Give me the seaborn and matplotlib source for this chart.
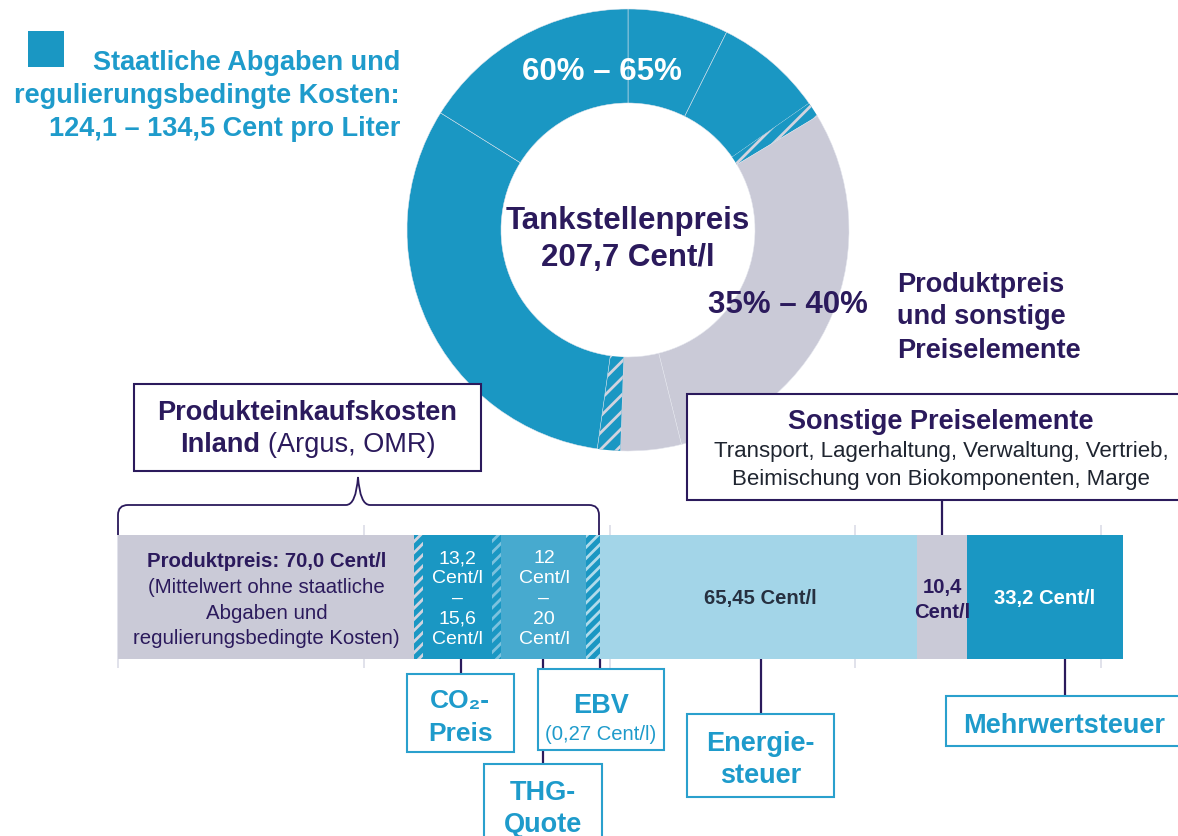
import matplotlib
matplotlib.use("Agg")
import matplotlib.pyplot as plt
from matplotlib.patches import Rectangle, PathPatch
from matplotlib.path import Path
import numpy as np
import pandas as pd
import seaborn as sns

# Ring: Anteile am Tankstellenpreis, in Grad (ab 12 Uhr, im Uhrzeigersinn)
donut_parts = [26.5, 28.5, 4.0, 107.0, 16.0, 6.0, 114.0, 58.0]
donut_kind = ["staat", "staat", "misch", "produkt", "produkt", "misch", "staat", "staat"]

# Balken: Segmentlaengen in Cent/l, wie gezeichnet
bar_parts = ["Produktpreis", "Rand 1", "CO2-Preis", "Rand 2", "THG-Quote", "EBV",
             "Energiesteuer", "Sonstige", "Mehrwertsteuer"]
bar_values = [60.2, 1.8, 14.0, 2.0, 17.3, 2.7, 64.6, 10.1, 31.9]
bar_hatched = [False, True, False, True, False, True, False, False, False]
bar_ticks = [0, 50, 100, 150, 200]

BLUE = "#1a97c3"
MID = "#47aacf"
LIGHT = "#a3d5e8"
GREY = "#cacad7"
DARK = "#2b1a5c"
TXTBLUE = "#1e9bcb"
BOXBLUE = "#2aa0cd"

bar_colors = [GREY, BLUE, BLUE, BLUE, MID, BLUE, LIGHT, GREY, BLUE]
bar_stripe = [None, "#d2d3de", None, "#7cc2de", None, "#b0dbeb", None, None, None]

sns.set_style("white")
plt.rcParams["font.family"] = ["Liberation Sans", "DejaVu Sans"]
plt.rcParams["hatch.linewidth"] = 2.0

W, H = 1178, 836
fig = plt.figure(figsize=(W / 100, H / 100), dpi=100)

# ---- donut ----
cx, cy, r_out, r_in = 628, 230, 221, 127
ax_pie = fig.add_axes([(cx - r_out) / W, (H - cy - r_out) / H, 2 * r_out / W, 2 * r_out / H])
kind_color = {"staat": BLUE, "produkt": GREY, "misch": BLUE}
wedges, _ = ax_pie.pie(donut_parts, colors=[kind_color[k] for k in donut_kind],
                       startangle=90, counterclock=False, radius=1,
                       wedgeprops=dict(width=(r_out - r_in) / r_out, linewidth=0.35,
                                       edgecolor="#e4e6ee"))
for w, k in zip(wedges, donut_kind):
    if k == "misch":
        w.set_hatch("//")
        w.set_edgecolor("#d2d3de")
        w.set_linewidth(0)
        if hasattr(w, "set_hatchcolor"):
            w.set_hatchcolor("#d2d3de")
ax_pie.set_xlim(-1, 1)
ax_pie.set_ylim(-1, 1)
ax_pie.set_aspect("equal")
ax_pie.axis("off")

# ---- stacked bar ----
px_per = 4.912
x0_px = 118.3
ax_bar = fig.add_axes([0, (H - 668) / H, 1, 143 / H])
df = pd.DataFrame({"Teil": bar_parts, "Wert": bar_values})
df["Ende"] = df["Wert"].cumsum()
df["Zeile"] = "Preis"
for i in reversed(range(len(df))):
    stripe = bar_stripe[i]
    sns.barplot(data=df.iloc[[i]], x="Ende", y="Zeile", orient="y", color=bar_colors[i],
                saturation=1, width=1, errorbar=None, linewidth=0,
                edgecolor=stripe if stripe else bar_colors[i], ax=ax_bar)
    p = ax_bar.patches[-1]
    p.set_facecolor(bar_colors[i])
    if bar_hatched[i]:
        p.set_hatch("///")
        p.set_edgecolor(stripe)
        if hasattr(p, "set_hatchcolor"):
            p.set_hatchcolor(stripe)
ax_bar.set_xlim(-x0_px / px_per, (W - x0_px) / px_per)
ax_bar.set_ylim(0.5 + 9 / 124, -0.5 - 10 / 124)
ax_bar.set_xticks(bar_ticks)
ax_bar.set_yticks([])
ax_bar.tick_params(length=0, labelbottom=False)
ax_bar.set_xlabel("")
ax_bar.set_ylabel("")
ax_bar.xaxis.grid(True, color="#dcdde8", lw=1.2)
ax_bar.set_axisbelow(True)
for s in ax_bar.spines.values():
    s.set_visible(False)
ax_bar.patch.set_visible(False)

# ---- overlay for annotations (pixel coordinates) ----
ax_t = fig.add_axes([0, 0, 1, 1])
ax_t.set_xlim(0, W)
ax_t.set_ylim(H, 0)
ax_t.axis("off")
ax_t.patch.set_visible(False)


def txt(x, y, s, size, color, weight="bold", ha="center"):
    ax_t.text(x, y, s, fontsize=size, color=color, fontweight=weight, ha=ha,
              va="baseline", zorder=5)


def box(x0, y0, x1, y1, ec, lw=1.5):
    ax_t.add_patch(Rectangle((x0, y0), x1 - x0, y1 - y0, facecolor="white",
                             edgecolor=ec, lw=lw, zorder=3))


def vline(x, y0, y1):
    ax_t.plot([x, x], [y0, y1], color=DARK, lw=1.6, zorder=2, solid_capstyle="butt")


# legend top-left
ax_t.add_patch(Rectangle((28, 31), 36, 36, facecolor=BLUE, edgecolor="none"))
txt(400, 70, "Staatliche Abgaben und", 19.5, TXTBLUE, ha="right")
txt(400, 103, "regulierungsbedingte Kosten:", 19.5, TXTBLUE, ha="right")
txt(400, 136, "124,1 – 134,5 Cent pro Liter", 19.5, TXTBLUE, ha="right")

# donut labels
txt(602, 80, "60% – 65%", 22.5, "white")
txt(628, 229, "Tankstellenpreis", 22.5, DARK)
txt(628, 266, "207,7 Cent/l", 22.5, DARK)
txt(708, 313, "35% – 40%", 22.5, DARK, ha="left")
txt(897, 292, "Produktpreis", 19.5, DARK, ha="left")
txt(897, 324, "und sonstige", 19.5, DARK, ha="left")
txt(897, 358, "Preiselemente", 19.5, DARK, ha="left")

# connectors
vline(942, 500, 535)
vline(461, 659, 674)
vline(543, 659, 764)
vline(600, 659, 669)
vline(761, 659, 714)
vline(1065, 659, 696)

# brace over Produkteinkaufskosten
verts = [(118, 535), (118, 515), (118, 505), (128, 505), (346, 505), (356, 505), (358, 477),
         (360, 505), (370, 505), (589, 505), (599, 505), (599, 515), (599, 535)]
codes = [Path.MOVETO, Path.LINETO, Path.CURVE3, Path.CURVE3, Path.LINETO, Path.CURVE3,
         Path.CURVE3, Path.CURVE3, Path.CURVE3, Path.LINETO, Path.CURVE3, Path.CURVE3,
         Path.LINETO]
ax_t.add_patch(PathPatch(Path(verts, codes), facecolor="none", edgecolor=DARK, lw=1.3, zorder=2))

# upper boxes
box(134, 384, 481, 471, DARK)
txt(307.5, 420, "Produkteinkaufskosten", 19.5, DARK)
txt(180, 452, "Inland", 19.5, DARK, ha="left")
txt(268, 452, "(Argus, OMR)", 19.5, DARK, weight="normal", ha="left")

box(687, 394, 1200, 500, DARK)
txt(941, 429, "Sonstige Preiselemente", 19.5, DARK)
txt(941, 457, "Transport, Lagerhaltung, Verwaltung, Vertrieb,", 16, "#1f2530", weight="normal")
txt(941, 485, "Beimischung von Biokomponenten, Marge", 16, "#1f2530", weight="normal")

# texts inside the bar
txt(266.5, 567, "Produktpreis: 70,0 Cent/l", 14.7, DARK)
txt(266.5, 593, "(Mittelwert ohne staatliche", 14.7, DARK, weight="normal")
txt(266.5, 619, "Abgaben und", 14.7, DARK, weight="normal")
txt(266.5, 644, "regulierungsbedingte Kosten)", 14.7, DARK, weight="normal")
for xc, lines in [(457.5, ["13,2", "Cent/l", "–", "15,6", "Cent/l"]),
                  (544, ["12", "Cent/l", "–", "20", "Cent/l"])]:
    for yb, s in zip([563, 583, 603, 624, 644], lines):
        txt(xc, yb, s, 14, "white", weight="normal")
txt(760, 604, "65,45 Cent/l", 14.6, "#263040")
txt(942, 593, "10,4", 14.6, DARK)
txt(942, 618, "Cent/l", 14.6, DARK)
txt(1045, 604, "33,2 Cent/l", 14.6, "white")

# lower boxes
box(406.7, 674, 514, 752, BOXBLUE)
txt(460.3, 708, "CO₂-", 19, TXTBLUE)
txt(460.3, 741, "Preis", 19, TXTBLUE)
box(537.7, 669, 664, 750, BOXBLUE)
txt(600.8, 713, "EBV", 19.5, TXTBLUE)
txt(600.8, 740, "(0,27 Cent/l)", 14.6, TXTBLUE, weight="normal")
box(484, 764, 601.7, 860, BOXBLUE)
txt(542.8, 800, "THG-", 19.5, TXTBLUE)
txt(542.8, 832, "Quote", 19.5, TXTBLUE)
box(687, 714, 834, 797, BOXBLUE)
txt(760.5, 751, "Energie-", 19.5, TXTBLUE)
txt(760.5, 783, "steuer", 19.5, TXTBLUE)
box(946, 696, 1200, 746, BOXBLUE)
txt(963, 733, "Mehrwertsteuer", 19.5, TXTBLUE, ha="left")

fig.savefig("out.png", dpi=100)
